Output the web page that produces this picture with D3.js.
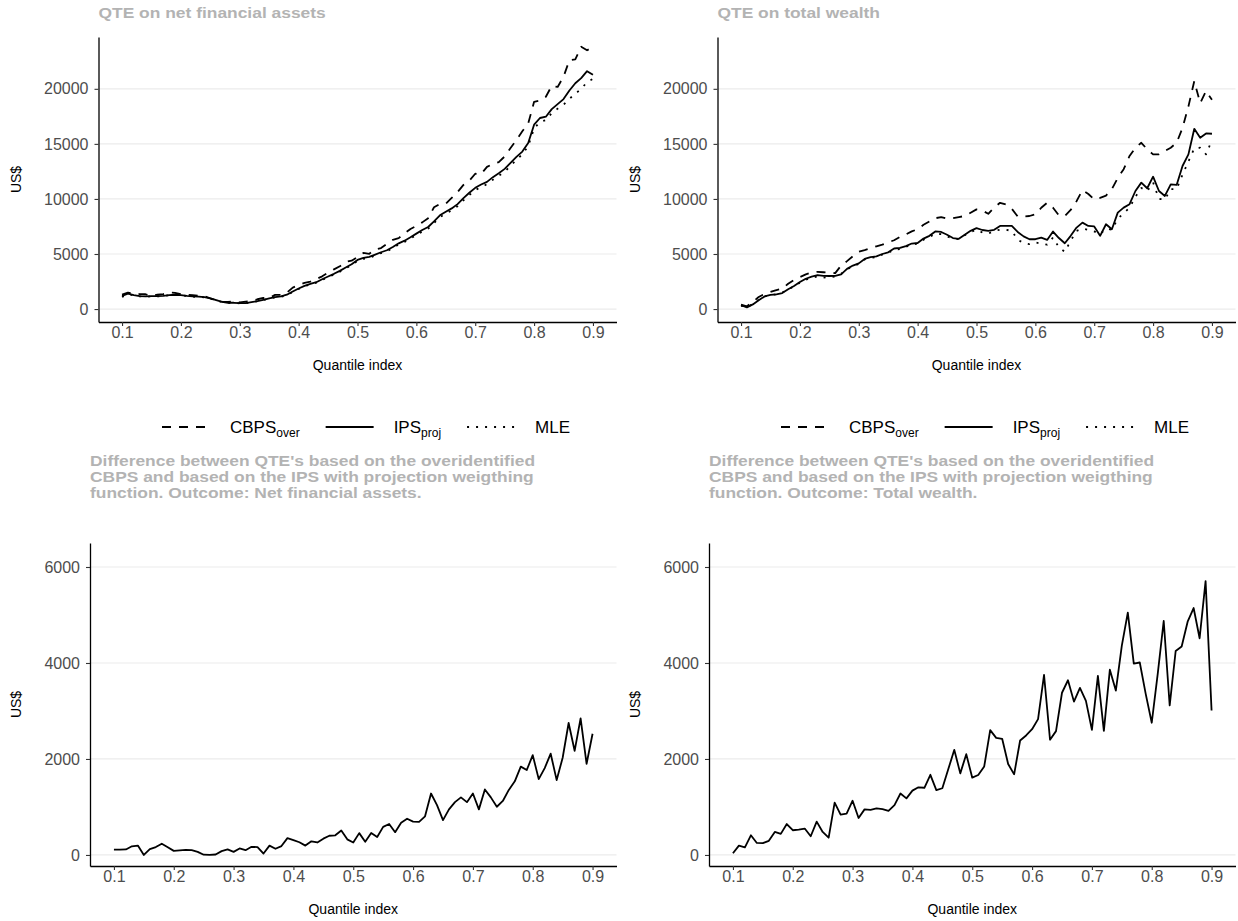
<!DOCTYPE html>
<html><head><meta charset="utf-8">
<script src="https://cdn.jsdelivr.net/npm/d3@7"></script>
<style>
body{margin:0;background:#fff;}
svg text{font-family:"Liberation Sans",Arial,Helvetica,sans-serif;}
</style></head><body>
<svg id="chart" width="1238" height="921"></svg>
<script>
// ---------------- DATA ----------------
const quantiles = [0.10,0.11,0.12,0.13,0.14,0.15,0.16,0.17,0.18,0.19,
 0.20,0.21,0.22,0.23,0.24,0.25,0.26,0.27,0.28,0.29,
 0.30,0.31,0.32,0.33,0.34,0.35,0.36,0.37,0.38,0.39,
 0.40,0.41,0.42,0.43,0.44,0.45,0.46,0.47,0.48,0.49,
 0.50,0.51,0.52,0.53,0.54,0.55,0.56,0.57,0.58,0.59,
 0.60,0.61,0.62,0.63,0.64,0.65,0.66,0.67,0.68,0.69,
 0.70,0.71,0.72,0.73,0.74,0.75,0.76,0.77,0.78,0.79,
 0.80,0.81,0.82,0.83,0.84,0.85,0.86,0.87,0.88,0.89,0.90];

const xTickValues = [0.1,0.2,0.3,0.4,0.5,0.6,0.7,0.8,0.9];
const yTicksQTE = [0,5000,10000,15000,20000];
const yTicksDiff = [0,2000,4000,6000];

const seriesNames = ["CBPS","IPS","MLE"];
const seriesSubs = ["over","proj",""];

// QTE on net financial assets
const nfaCBPS = [1310,1500,1385,1360,1345,1180,1300,1365,1505,1460,
 1355,1295,1255,1220,1155,975,810,670,650,685,
 605,675,730,890,1005,1000,1285,1280,1485,1950,
 2180,2375,2485,2725,2970,3300,3600,3880,4280,4395,
 4720,5095,5015,5410,5535,5925,6285,6445,6880,7275,
 7545,7870,8255,9240,9550,9565,10090,10630,11270,11660,
 12290,12260,12915,13180,13345,13855,14625,15355,16140,16850,
 18820,18930,19280,20270,20170,21095,22600,22680,23815,23500,23795];
const nfaIPS = [1200,1390,1270,1180,1150,1180,1180,1200,1270,1300,
 1270,1200,1150,1120,1090,970,810,660,570,570,
 540,540,630,720,840,970,1090,1150,1300,1600,
 1870,2110,2290,2440,2710,2960,3200,3470,3770,4070,
 4460,4640,4740,4950,5160,5340,5640,5970,6210,6520,
 6850,7180,7450,7960,8510,8840,9140,9530,10070,10560,
 11010,11310,11550,11980,12340,12730,13270,13820,14300,15080,
 16740,17350,17470,18160,18610,19070,19850,20510,20970,21600,21270];
const nfaMLE = [1100,1350,1250,1150,1120,1150,1150,1180,1250,1280,
 1250,1180,1130,1100,1060,940,780,640,550,560,
 520,530,620,700,820,950,1060,1120,1260,1560,
 1820,2060,2240,2390,2650,2900,3130,3400,3700,4000,
 4380,4560,4660,4870,5080,5250,5550,5870,6100,6400,
 6720,7040,7300,7800,8350,8670,8960,9340,9870,10350,
 10800,11100,11330,11750,12100,12480,13000,13550,14050,14800,
 16400,17000,17150,17800,18200,18550,19100,19550,20000,20600,20900];

// QTE on total wealth
const twCBPS = [400,250,650,1100,1380,1550,1720,1850,2300,2650,
 2900,3150,3320,3380,3340,3300,3260,3950,4350,4800,
 5200,5350,5520,5700,5850,6050,6250,6550,6780,7050,
 7250,7650,7950,8250,8350,8220,8250,8350,8450,8750,
 9050,8950,8650,9200,9650,9500,9100,8400,8400,8450,
 8600,9200,9650,9200,8500,8450,9000,9800,10800,10450,
 9950,10100,10300,10900,11900,12700,13900,14650,15100,14500,
 14050,14050,14350,14650,15100,16450,18400,20700,18700,19800,19000];
const twIPS = [360,150,420,800,1150,1280,1340,1450,1800,2100,
 2450,2750,2950,3080,3020,3000,3020,3150,3650,3950,
 4150,4550,4720,4780,5000,5150,5500,5550,5720,5950,
 6000,6400,6650,7050,7000,6750,6450,6380,6750,7100,
 7350,7180,7100,7200,7550,7550,7550,7000,6600,6340,
 6340,6480,6280,7040,6450,5980,6650,7400,7850,7550,
 7500,6650,7700,7250,8760,9210,9520,10720,11480,10970,
 12020,10720,10270,11330,11270,12990,14050,16370,15560,15950,15920];
const twMLE = [300,180,450,850,1150,1250,1350,1500,1800,2050,
 2400,2650,2850,2950,2850,2900,2950,3200,3600,3900,
 4100,4500,4650,4700,4950,5100,5400,5450,5650,5850,
 5950,6300,6550,6850,6800,6600,6400,6350,6700,7000,
 7200,6950,6850,7100,7200,7200,7100,6300,6000,5900,
 6050,5950,5850,6500,5600,5200,6200,7100,7300,7200,
 7050,6800,7300,7200,8200,8700,9200,10200,11000,10700,
 11500,10000,9950,10900,10900,12200,13400,14600,14650,14050,15350];

// Differences CBPS - IPS
const nfaDiff = [110,110,115,180,195,0,120,165,235,160,
 85,95,105,100,65,5,0,10,80,115,
 65,135,100,170,165,30,195,130,185,350,
 310,265,195,285,260,340,400,410,510,325,
 260,455,275,460,375,585,645,475,670,755,
 695,690,805,1280,1040,725,950,1100,1200,1100,
 1280,950,1365,1200,1005,1125,1355,1535,1840,1770,
 2080,1580,1810,2110,1560,2025,2750,2170,2845,1900,2525];
const twDiff = [35,195,160,410,250,245,295,480,440,645,
 515,530,550,390,695,480,360,1090,840,860,
 1130,770,950,940,970,955,920,1040,1280,1180,
 1340,1410,1400,1670,1350,1390,1790,2190,1700,2100,
 1610,1665,1845,2600,2440,2420,1895,1680,2385,2490,
 2620,2830,3750,2400,2580,3380,3640,3195,3480,3210,
 2605,3730,2585,3860,3425,4360,5050,3985,4010,3350,
 2755,3775,4875,3115,4250,4345,4860,5145,4515,5705,3010];

const titleNFA = ["QTE on net financial assets"];
const titleTW = ["QTE on total wealth"];
const titleDiffNFA = ["Difference between QTE's based on the overidentified",
 "CBPS and based on the IPS with projection weigthing",
 "function. Outcome: Net financial assets."];
const titleDiffTW = ["Difference between QTE's based on the overidentified",
 "CBPS and based on the IPS with projection weigthing",
 "function. Outcome: Total wealth."];

// ---------------- STYLE ----------------
const DASH = {CBPS:"9,8", IPS:null, MLE:"2,7"};
const LW = 1.8;
const svg = d3.select("#chart");
const COL = 619;

function drawPanel(o){
  const x = d3.scaleLinear().domain([0.06,0.94]).range([o.L,o.R]);
  const y = d3.scaleLinear().domain(o.yDomain).range([o.B,o.T]);
  const g = svg.append("g");
  g.selectAll("line.grid").data(o.yTicks).join("line")
    .attr("x1",o.L).attr("x2",o.R)
    .attr("y1",d=>y(d)).attr("y2",d=>y(d))
    .attr("stroke","#EBEBEB").attr("stroke-width",1.2);
  const line = d3.line().x((d,i)=>x(quantiles[i])).y(d=>y(d));
  o.series.forEach(s=>{
    g.append("path").datum(s.values).attr("d",line)
      .attr("fill","none").attr("stroke","#000").attr("stroke-width",LW)
      .attr("stroke-linejoin","round")
      .attr("stroke-dasharray",s.dash);
  });
  const ax = g.append("g").attr("transform",`translate(0,${o.B})`)
    .call(d3.axisBottom(x).tickValues(xTickValues).tickFormat(d3.format(".1f"))
      .tickSizeOuter(0).tickSizeInner(4).tickPadding(1));
  const ay = g.append("g").attr("transform",`translate(${o.L},0)`)
    .call(d3.axisLeft(y).tickValues(o.yTicks).tickFormat(d3.format("d"))
      .tickSizeOuter(0).tickSizeInner(4).tickPadding(6));
  [ax,ay].forEach(a=>{
    a.select(".domain").attr("stroke","#000").attr("stroke-width",1.3);
    a.selectAll(".tick line").attr("stroke","#333").attr("stroke-width",1.1);
    a.selectAll(".tick text").attr("fill","#4D4D4D").attr("font-size",16)
      .style("font-family","'Liberation Sans',Arial,sans-serif");
  });
  // axis titles
  g.append("text").attr("x",(o.L+o.R)/2).attr("y",o.B+48)
    .attr("text-anchor","middle").attr("font-size",14).attr("fill","#000")
    .text("Quantile index");
  g.append("text").attr("transform",`translate(${o.colX+21},${(o.T+o.B)/2}) rotate(-90)`)
    .attr("text-anchor","middle").attr("font-size",14).attr("fill","#000")
    .text("US$");
  // title (one text per line, glyphs slightly widened)
  o.title.forEach((ln,i)=>{
    const t = g.append("text").attr("x",o.L).attr("y",o.titleY + i*16)
      .attr("font-size",14.5).attr("font-weight","bold").attr("fill","#B3B3B3").text(ln);
    const w = t.node().getComputedTextLength();
    t.attr("textLength", w*1.2).attr("lengthAdjust","spacingAndGlyphs");
  });
}

function drawLegend(x0,yc){
  const g = svg.append("g");
  let cx = x0;
  seriesNames.forEach((nm,i)=>{
    g.append("line").attr("x1",cx).attr("x2",cx+48).attr("y1",yc).attr("y2",yc)
      .attr("stroke","#000").attr("stroke-width",LW+0.2).attr("stroke-dasharray",DASH[nm]);
    cx += 48+20;
    const t = g.append("text").attr("x",cx).attr("y",yc+6).attr("font-size",17).attr("fill","#000");
    t.append("tspan").text(nm);
    if(seriesSubs[i]) t.append("tspan").attr("font-size",12).attr("dy",4).text(seriesSubs[i]);
    cx += t.node().getComputedTextLength() + 26;
  });
}

const topDomain = [-1176,24706];
const botDomain = [-230,6500];
[0,1].forEach(c=>{
  const off = c*COL;
  drawPanel({colX:off, L:98.5+off, R:616.5+off, T:37, B:322, yDomain:topDomain, yTicks:yTicksQTE,
    title: c===0?titleNFA:titleTW, titleY:18,
    series: c===0
      ? [{values:nfaCBPS,dash:DASH.CBPS},{values:nfaIPS,dash:DASH.IPS},{values:nfaMLE,dash:DASH.MLE}]
      : [{values:twCBPS,dash:DASH.CBPS},{values:twIPS,dash:DASH.IPS},{values:twMLE,dash:DASH.MLE}]});
  drawPanel({colX:off, L:90+off, R:616.5+off, T:543, B:866, yDomain:botDomain, yTicks:yTicksDiff,
    title: c===0?titleDiffNFA:titleDiffTW, titleY:466,
    series: [{values: c===0?nfaDiff:twDiff, dash:null}]});
  drawLegend(162+off, 427);
});
</script></body></html>
